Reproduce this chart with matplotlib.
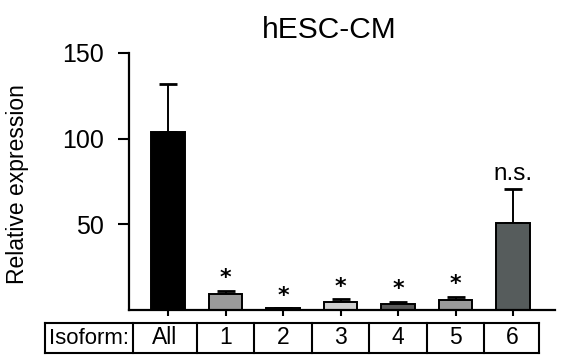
import matplotlib
matplotlib.use("Agg")
import matplotlib.pyplot as plt
from matplotlib.transforms import blended_transform_factory
from matplotlib.lines import Line2D

plt.rcParams['font.family'] = ['Liberation Sans', 'DejaVu Sans']

categories = ["All", "1", "2", "3", "4", "5", "6"]
values = [104, 9.5, 1.0, 4.6, 3.5, 6.0, 50.5]
errors = [28, 1.5, 0.0, 1.6, 1.2, 1.5, 20]
colors = ["#000000", "#9a9a9a", "#9a9a9a", "#d0d0d0", "#5a5a5a", "#9a9a9a", "#565c5c"]
sig_labels = ["", "*", "*", "*", "*", "*", "n.s."]
row_label = "Isoform:"
yticks = [50, 100, 150]
title = "hESC-CM"
ylabel = "Relative expression"

fig = plt.figure(figsize=(5.71, 3.60), dpi=100)
W, H = 571, 360
ax = fig.add_axes([129 / W, (H - 310) / H, (555 - 129) / W, (310 - 53) / H])

x = list(range(len(categories)))
ax.bar(x, values, width=0.58, color=colors, edgecolor="black", linewidth=1.4, zorder=2)
ax.errorbar(x, values, yerr=[[0] * len(errors), errors], fmt="none", ecolor="black",
            elinewidth=1.4, capsize=6.5, capthick=2.0, zorder=1)

for xi, v, e, s in zip(x, values, errors, sig_labels):
    if not s:
        continue
    if s == "*":
        ax.annotate(s, (xi, v + e), xytext=(0, 2), textcoords="offset points",
                    ha="center", va="bottom", fontsize=16, fontweight="bold",
                    family="DejaVu Sans")
    else:
        ax.annotate(s, (xi, v + e), xytext=(0, 3), textcoords="offset points",
                    ha="center", va="bottom", fontsize=17.5)

ax.set_xlim(-0.68, 6.73)
ax.set_ylim(0, 150)
ax.set_yticks(yticks)
ax.set_yticklabels([str(t) for t in yticks], fontsize=18)
ax.set_xticks(x)
ax.set_xticklabels([])
ax.tick_params(axis="y", length=8, width=1.5, direction="out", pad=10)
ax.tick_params(axis="x", length=4.5, width=1.5, direction="out")
for side in ["top", "right"]:
    ax.spines[side].set_visible(False)
for side in ["left", "bottom"]:
    ax.spines[side].set_linewidth(1.6)

ax.set_title(title, fontsize=21.5, pad=11, x=0.47)
fig.text(18 / W, (H - 184) / H, ylabel, rotation=90, ha="center", va="center",
         fontsize=16.5)

# table row beneath the axis
trans = blended_transform_factory(ax.transData, fig.transFigure)
ytop = (H - 323) / H
ybot = (H - 353) / H
ymid = (ytop + ybot) / 2
px = (6.73 + 0.68) / (555 - 129)  # data units per pixel
x_left_lab = -0.68 + (45 - 129) * px
x_left_all = -0.68 + (133 - 129) * px
edges = [x_left_lab, x_left_all] + [i + 0.5 for i in range(len(categories) - 1)] + [len(categories) - 1 + 0.46]
for ex in edges:
    fig.add_artist(Line2D([ex, ex], [ybot, ytop], transform=trans, color="black", lw=1.5))
for yy in (ytop, ybot):
    fig.add_artist(Line2D([edges[0], edges[-1]], [yy, yy], transform=trans, color="black", lw=1.5))
fig.text((edges[0] + edges[1]) / 2, ymid, row_label, transform=trans, ha="center", va="center", fontsize=16)
for i, c in enumerate(categories):
    fig.text((edges[i + 1] + edges[i + 2]) / 2, ymid, c, transform=trans,
             ha="center", va="center", fontsize=16.5)

fig.savefig("out.png", dpi=100)
